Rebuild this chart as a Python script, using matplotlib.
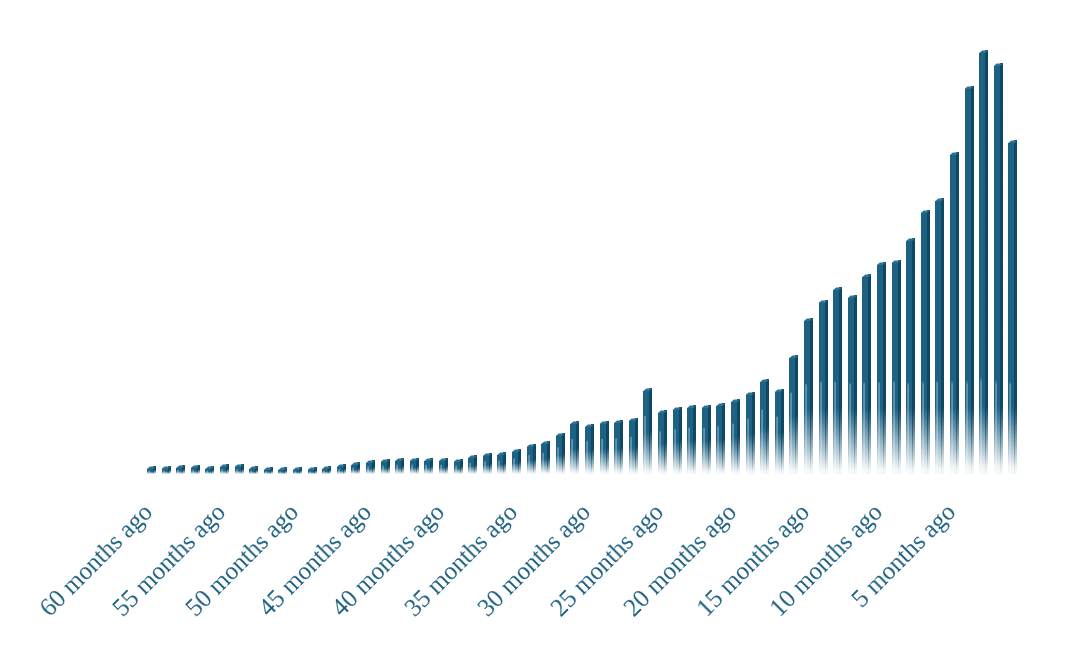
import numpy as np
import matplotlib
matplotlib.use("Agg")
import matplotlib.pyplot as plt
from matplotlib.patches import Polygon
from matplotlib.colors import to_rgb

plt.rcParams["font.family"] = ["Liberation Serif", "DejaVu Serif"]

# monthly values, 60 months ago -> 1 month ago
values = [5, 5, 6, 6, 5, 7, 7, 5, 4, 4,
          4, 4, 5, 7, 9, 11, 12, 13, 13, 13,
          13, 12, 16, 18, 19, 22, 27, 30, 38, 50,
          47, 50, 51, 53, 83, 61, 64, 66, 66, 68,
          72, 79, 92, 82, 116, 153, 171, 184, 176, 197,
          209, 211, 233, 261, 273, 319, 385, 421, 408, 331]
months_ago = list(range(60, 0, -1))
tick_pos = list(range(0, 60, 5))
tick_labels = ["%d months ago" % months_ago[i] for i in tick_pos]

front_col = "#1e6283"
side_col = "#0f4863"
cap_col = "#2a7396"
text_col = "#1d5f80"


def fade_image(color, h, n=80, cols=1, stripe=None):
    # vertical alpha gradient, transparent at the base
    fl = min(0.5 * h, 65)
    y = np.linspace(0, h, n)
    alpha = np.clip(y / max(fl, 1e-6), 0.04, 1.0)
    img = np.zeros((n, cols, 4))
    img[..., :3] = to_rgb(color)
    img[..., 3] = alpha[:, None]
    if stripe is not None:
        light = np.array(to_rgb("#7fa9c0"))
        mask = y < fl * 1.4
        img[mask, stripe, :3] = light
    return img


fig = plt.figure(figsize=(10.8, 6.48), dpi=100)
ax = fig.add_axes([0.1254, 0.2685, 0.8246, 0.679])

fw = 0.21   # half width of front face
sw = 0.2    # side face depth
dy = 2.5    # cap rise

for i, h in enumerate(values):
    x0, x1 = i - fw, i + fw
    ax.imshow(fade_image(front_col, h, cols=5, stripe=1), extent=(x0, x1, 0, h),
              origin="lower", aspect="auto", interpolation="bilinear", zorder=2)
    ax.imshow(fade_image(side_col, h + dy), extent=(x1, x1 + sw, 0, h + dy),
              origin="lower", aspect="auto", interpolation="bilinear", zorder=2)
    cap = Polygon([(x0, h), (x1, h), (x1 + sw, h + dy), (x0 + sw, h + dy)],
                  closed=True, facecolor=cap_col, edgecolor="none", zorder=3)
    ax.add_patch(cap)

ax.set_xlim(-1, 60)
ax.set_ylim(0, 440)
ax.set_yticks([])
ax.set_xticks(tick_pos)
ax.set_xticklabels(tick_labels, rotation=45, ha="right", va="center",
                   rotation_mode="anchor", fontsize=18, color=text_col)
ax.tick_params(axis="x", length=0, pad=25)
for s in ax.spines.values():
    s.set_visible(False)
ax.patch.set_alpha(0)

fig.savefig("out.png", dpi=100, facecolor="white")
